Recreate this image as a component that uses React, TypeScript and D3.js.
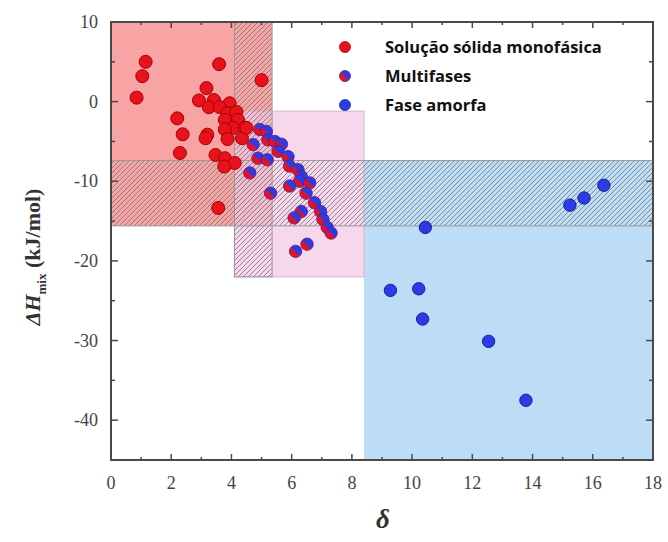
import React from "react";
import * as d3 from "d3";

const solidX = [0.85, 1.04, 1.15, 3.59, 5.0, 3.17, 2.92, 3.42, 3.25, 3.94, 3.61, 3.87, 4.17, 3.78, 4.22, 4.05, 4.44, 3.78, 3.2, 3.14, 3.87, 4.35, 3.47, 3.78, 4.11, 3.76, 2.2, 2.38, 2.29, 3.56, 4.5];
const solidY = [0.5, 3.2, 5.0, 4.7, 2.7, 1.7, 0.15, 0.2, -0.7, -0.2, -0.7, -1.45, -1.3, -2.3, -2.3, -3.3, -3.25, -3.5, -4.15, -4.6, -4.7, -4.6, -6.7, -7.1, -7.7, -8.15, -2.1, -4.1, -6.45, -13.35, -3.3];

const multiX = [4.94, 5.16, 5.21, 5.44, 5.66, 4.72, 5.55, 5.88, 4.88, 5.19, 5.93, 6.21, 6.32, 4.61, 6.26, 6.6, 5.93, 6.48, 5.3, 6.76, 6.32, 6.08, 6.96, 7.04, 7.18, 7.31, 6.51, 6.13];
const multiY = [-3.5, -3.75, -4.8, -5.0, -5.35, -5.4, -6.25, -6.9, -7.1, -7.3, -8.1, -8.55, -9.4, -8.95, -10.0, -10.2, -10.6, -11.5, -11.5, -12.7, -13.8, -14.6, -13.8, -14.8, -15.8, -16.5, -17.9, -18.8];

const amorphX = [16.37, 15.71, 15.24, 10.44, 9.28, 10.22, 10.35, 12.54, 13.78];
const amorphY = [-10.5, -12.1, -13.0, -15.8, -23.7, -23.5, -27.3, -30.1, -37.5];

const xTicks = [0, 2, 4, 6, 8, 10, 12, 14, 16, 18];
const yTicks = [10, 0, -10, -20, -30, -40];
const legendLabels = ["Solução sólida monofásica", "Multifases", "Fase amorfa"];

// region bounds in data units: [x0, x1, yTop, yBottom]
const redRegion = [0, 5.35, 10, -15.6];
const pinkRegion = [4.1, 8.4, -1.2, -22];
const blueRegion = [8.4, 18, -7.4, -45];
const hatchStrip = [4.1, 5.35, 10, -22];
const hatchBand = [0, 18, -7.4, -15.6];

export default function App() {
  const W = 668, H = 542;
  const x = d3.scaleLinear().domain([0, 18]).range([111, 653]);
  const y = d3.scaleLinear().domain([10, -45]).range([22, 460]);

  const rect = (r: number[]) => ({
    x: x(r[0]), y: y(r[2]), width: x(r[1]) - x(r[0]), height: y(r[3]) - y(r[2]),
  });

  const red = "#e8121c", redStroke = "#a80000";
  const blue = "#2b3be6", blueStroke = "#1a1f9a";
  const axisCol = "#4a4a4a";

  const minorX = d3.range(0, 18.01, 1);
  const minorY = d3.range(10, -45.01, -5);

  return (
    <svg width={W} height={H} style={{ position: "absolute", left: 0, top: 0, background: "#fff" }}>
      <defs>
        <pattern id="hatch" patternUnits="userSpaceOnUse" width={5} height={5}>
          <path d="M-1,1 l2,-2 M0,5 l5,-5 M4,6 l2,-2" stroke="#7a7a7a" strokeWidth={1} strokeOpacity={0.85} />
        </pattern>
        <linearGradient id="multi" x1="0" y1="1" x2="1" y2="0">
          <stop offset="0%" stopColor={red} />
          <stop offset="40%" stopColor={red} />
          <stop offset="55%" stopColor={blue} />
          <stop offset="100%" stopColor={blue} />
        </linearGradient>
      </defs>
      <rect width={W} height={H} fill="#fff" />
      {/* regions */}
      <rect {...rect(redRegion)} fill="#f8a4a4" />
      <rect {...rect(blueRegion)} fill="#bddcf5" />
      <rect {...rect(pinkRegion)} fill="#f3c6e4" fillOpacity={0.7} stroke="#d9b3cc" strokeWidth={1} />
      <rect {...rect(hatchStrip)} fill="url(#hatch)" stroke="#999" strokeWidth={1} />
      <rect {...rect(hatchBand)} fill="url(#hatch)" stroke="#999" strokeWidth={1} />

      {/* points */}
      {solidX.map((v, i) => (
        <circle key={"s" + i} cx={x(v)} cy={y(solidY[i])} r={6.5} fill={red} stroke={redStroke} strokeWidth={1} />
      ))}
      {multiX.map((v, i) => (
        <circle key={"m" + i} cx={x(v)} cy={y(multiY[i])} r={6.2} fill="url(#multi)" stroke="#5a1a8a" strokeWidth={0.8} />
      ))}
      {amorphX.map((v, i) => (
        <circle key={"a" + i} cx={x(v)} cy={y(amorphY[i])} r={6.2} fill={blue} stroke={blueStroke} strokeWidth={1} />
      ))}

      {/* frame */}
      <rect x={x(0)} y={y(10)} width={x(18) - x(0)} height={y(-45) - y(10)} fill="none" stroke={axisCol} strokeWidth={2} />
      {minorX.map((t) => {
        const len = t % 2 === 0 ? 6 : 3;
        return (
          <g key={"xt" + t} stroke={axisCol} strokeWidth={1.5}>
            <line x1={x(t)} x2={x(t)} y1={y(-45)} y2={y(-45) - len} />
            <line x1={x(t)} x2={x(t)} y1={y(10)} y2={y(10) + len} />
          </g>
        );
      })}
      {minorY.map((t) => {
        const len = t % 10 === 0 ? 7 : 4;
        return (
          <g key={"yt" + t} stroke={axisCol} strokeWidth={1.5}>
            <line x1={x(0)} x2={x(0) + len} y1={y(t)} y2={y(t)} />
            <line x1={x(18)} x2={x(18) - len} y1={y(t)} y2={y(t)} />
          </g>
        );
      })}

      {/* tick labels */}
      {xTicks.map((t) => (
        <text key={"xl" + t} x={x(t)} y={489} textAnchor="middle" fontFamily="Liberation Serif, serif" fontSize={18} fill="#444">{t}</text>
      ))}
      {yTicks.map((t) => (
        <text key={"yl" + t} x={98} y={y(t) + 6} textAnchor="end" fontFamily="Liberation Serif, serif" fontSize={18} fill="#444">{t}</text>
      ))}

      {/* axis titles */}
      <text x={383} y={528} textAnchor="middle" fontFamily="Liberation Serif, serif" fontStyle="italic" fontWeight="bold" fontSize={27} fill="#333">δ</text>
      <text transform={`translate(40,${257}) rotate(-90)`} textAnchor="middle" fontFamily="Liberation Serif, serif" fontWeight="bold" fontSize={22} fill="#333">
        <tspan fontStyle="italic">ΔH</tspan>
        <tspan fontSize={13} dy={6}>mix</tspan>
        <tspan dy={-6}> (kJ/mol)</tspan>
      </text>

      {/* legend */}
      {legendLabels.map((lab, i) => {
        const ly = 47 + i * 29;
        const fill = i === 0 ? red : i === 1 ? "url(#multi)" : blue;
        return (
          <g key={"lg" + i}>
            <circle cx={345} cy={ly} r={5.5} fill={fill} stroke={i === 0 ? redStroke : i === 1 ? "#5a1a8a" : blueStroke} strokeWidth={0.8} />
            <text x={385} y={ly + 6} fontFamily="Open Sans, sans-serif" fontWeight={700} fontSize={16.5} fill="#111">{lab}</text>
          </g>
        );
      })}
    </svg>
  );
}
